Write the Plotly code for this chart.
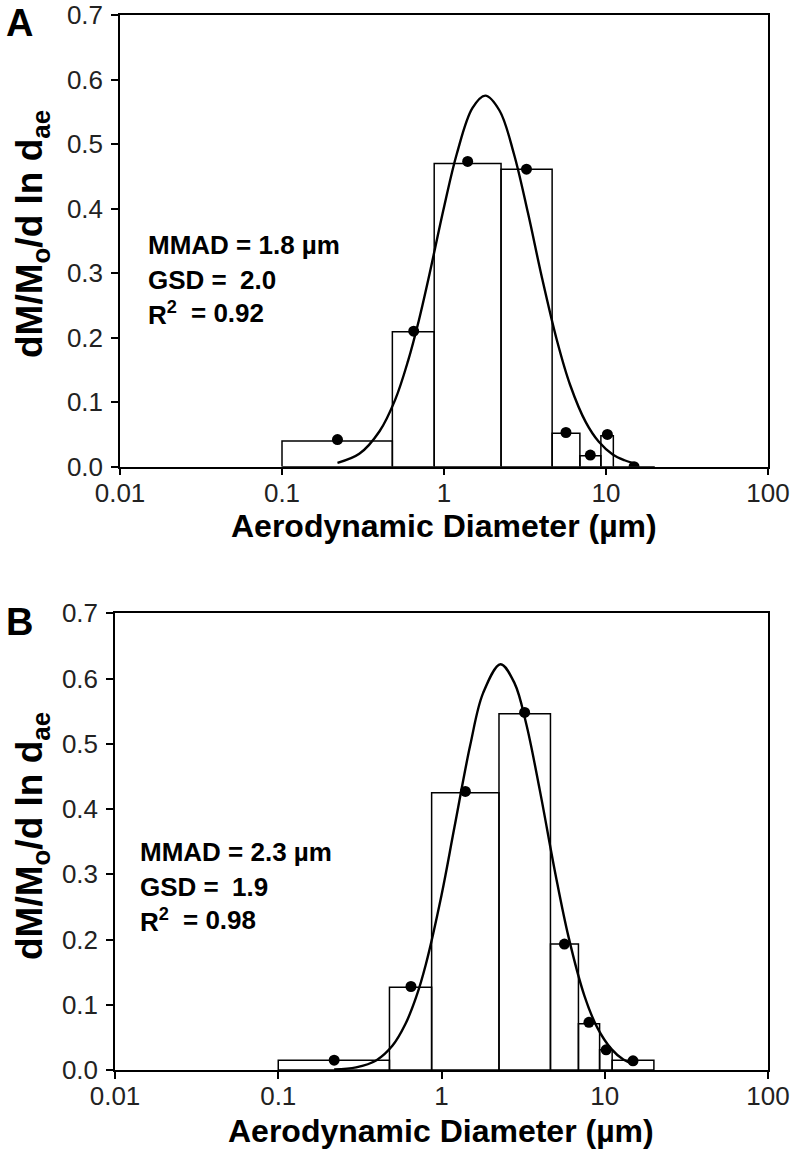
import plotly.graph_objects as go
from plotly.subplots import make_subplots

# impactor stage boundaries (um), shared by both panels
edges = [0.1, 0.48, 0.87, 2.25, 4.65, 6.9, 9.3, 11.1, 20]
dot_d = [0.22, 0.65, 1.40, 3.23, 5.66, 8.0, 10.2, 14.9]

# panel A
a_heights = [0.040, 0.209, 0.470, 0.461, 0.052, 0.017, 0.048, 0.0]
a_dots = [0.042, 0.210, 0.473, 0.461, 0.053, 0.018, 0.050, 0.0]
a_fit_d = [0.22, 0.3, 0.4, 0.5, 0.6, 0.7, 0.8, 1.0, 1.2, 1.5, 1.8, 2.2, 2.7, 3.3, 4.0, 5.0, 6.0, 7.5, 9.0, 11, 13, 15]
a_fit_v = [0.006, 0.020, 0.055, 0.104, 0.164, 0.227, 0.290, 0.402, 0.485, 0.556, 0.575, 0.552, 0.485, 0.393,
           0.296, 0.194, 0.127, 0.069, 0.039, 0.019, 0.010, 0.005]

# panel B
b_heights = [0.015, 0.127, 0.425, 0.546, 0.193, 0.071, 0.031, 0.015]
b_dots = [0.015, 0.128, 0.427, 0.548, 0.193, 0.073, 0.031, 0.014]
b_fit_d = [0.22, 0.3, 0.4, 0.5, 0.6, 0.7, 0.8, 1.0, 1.2, 1.5, 1.8, 2.3, 2.8, 3.3, 4.0, 5.0, 6.0, 7.5, 9.0, 11, 13, 15]
b_fit_v = [0.001, 0.004, 0.015, 0.037, 0.070, 0.112, 0.161, 0.268, 0.372, 0.498, 0.578, 0.622, 0.593, 0.531,
           0.429, 0.299, 0.204, 0.114, 0.065, 0.032, 0.016, 0.009]

x_ticks = [0.01, 0.1, 1, 10, 100]
x_ticktext = ['0.01', '0.1', '1', '10', '100']
y_ticks = [0, 0.1, 0.2, 0.3, 0.4, 0.5, 0.6, 0.7]

FONT = 'Liberation Sans, Arial, sans-serif'

fig = make_subplots(rows=2, cols=1)


def bar_path(heights):
    xs, ys = [], []
    for i, h in enumerate(heights):
        x0, x1 = edges[i], edges[i + 1]
        xs += [x0, x0, x1, x1, x0, None]
        ys += [0, h, h, 0, 0, None]
    return xs, ys


for row, heights, dots, fd, fv in [(1, a_heights, a_dots, a_fit_d, a_fit_v),
                                   (2, b_heights, b_dots, b_fit_d, b_fit_v)]:
    bx, by = bar_path(heights)
    fig.add_trace(go.Scatter(x=bx, y=by, mode='lines', fill='toself', fillcolor='white',
                             line=dict(color='black', width=1.5)), row, 1)
    fig.add_trace(go.Scatter(x=fd, y=fv, mode='lines', line_shape='spline',
                             line=dict(color='black', width=2.4)), row, 1)
    fig.add_trace(go.Scatter(x=dot_d, y=dots, mode='markers',
                             marker=dict(color='black', size=11)), row, 1)

axis_common = dict(showline=True, linecolor='black', linewidth=1.5, mirror=True,
                   ticks='outside', ticklen=7, tickcolor='black', tickwidth=1.5,
                   showgrid=False, zeroline=False, automargin=False,
                   ticklabeloverflow='allow',
                   tickfont=dict(family=FONT, size=26, color='#222'))

fig.update_xaxes(type='log', range=[-2, 2], tickvals=x_ticks, ticktext=x_ticktext,
                 ticklabelstandoff=-5, **axis_common)
fig.update_yaxes(range=[0, 0.7], tickvals=y_ticks, tickformat='.1f', ticklabelstandoff=3, **axis_common)

W, H = 792, 1167
fig.update_layout(
    width=W, height=H, margin=dict(l=0, r=0, t=0, b=0),
    paper_bgcolor='white', plot_bgcolor='white', showlegend=False,
    xaxis=dict(domain=[120 / W, 768 / W]),
    yaxis=dict(domain=[1 - 466.7 / H, 1 - 15 / H]),
    xaxis2=dict(domain=[115 / W, 768 / W]),
    yaxis2=dict(domain=[1 - 1070 / H, 1 - 613.3 / H]),
)


def px(x, y):
    return x / W, 1 - y / H


annots = []


def add_text(text, x, y, size, xanchor='left', angle=0):
    ax, ay = px(x, y)
    annots.append(dict(text=text, x=ax, y=ay, xref='paper', yref='paper', showarrow=False,
                       xanchor=xanchor, yanchor='middle', textangle=angle,
                       font=dict(family=FONT, size=size, color='black', weight='bold')))


ytitle = 'dM/M<sub>o</sub>/d ln d<sub>ae</sub>'
xtitle = 'Aerodynamic Diameter (\u00b5m)'

# panel A
add_text('A', 4, 23, 38)
add_text(ytitle, 32, 234, 37, xanchor='center', angle=-90)
add_text(xtitle, 444, 526, 32, xanchor='center')
add_text('MMAD = 1.8 \u00b5m', 146, 245, 26)
add_text('GSD =', 146, 280, 26)
add_text('2.0', 278, 280, 26, xanchor='right')
add_text('R<sup>2</sup>', 146, 313, 26)
add_text('= 0.92', 266, 313, 26, xanchor='right')

# panel B
add_text('B', 4, 622, 38)
add_text(ytitle, 32, 836, 37, xanchor='center', angle=-90)
add_text(xtitle, 441, 1131, 32, xanchor='center')
add_text('MMAD = 2.3 \u00b5m', 138, 852, 26)
add_text('GSD =', 138, 887, 26)
add_text('1.9', 270, 887, 26, xanchor='right')
add_text('R<sup>2</sup>', 138, 920, 26)
add_text('= 0.98', 258, 920, 26, xanchor='right')

fig.update_layout(annotations=annots)

# drop the default 8px body margin so the 792x1167 figure fills the window exactly
fig.write_html('out.html', config={'displayModeBar': False},
               post_script="document.body.style.margin='0';document.body.style.overflow='hidden';")
